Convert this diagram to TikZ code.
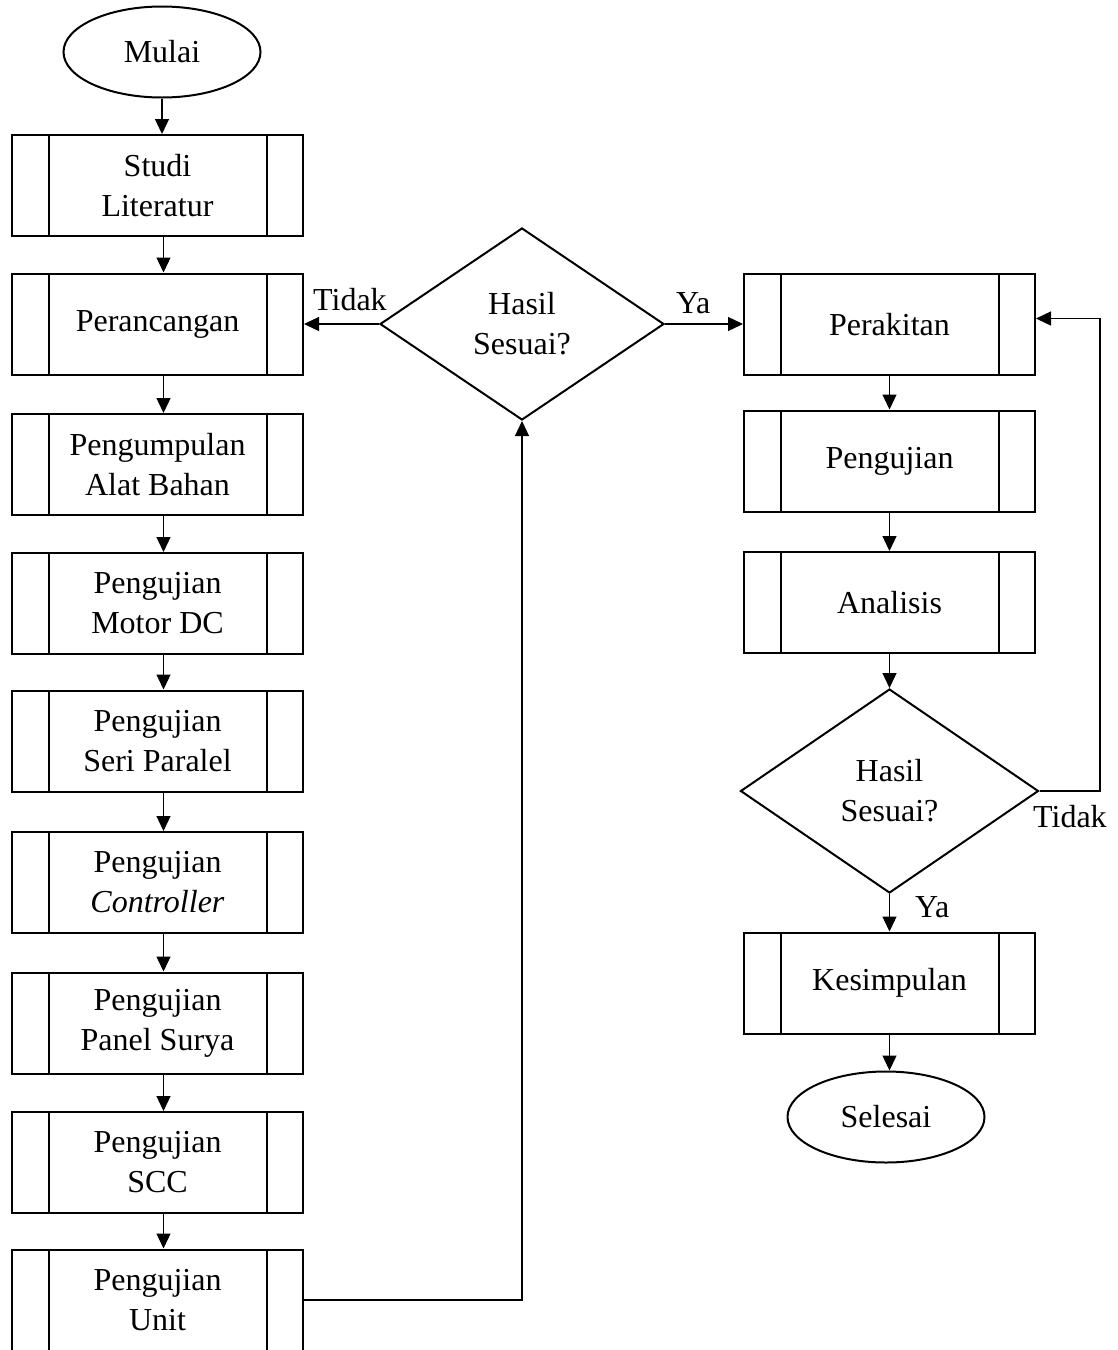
\documentclass[tikz,border=0pt]{standalone}
\usepackage{fontspec}
\setmainfont{Liberation Serif}
\usetikzlibrary{shapes.geometric,arrows.meta}

\begin{document}
\begin{tikzpicture}[x=1pt,y=-1pt,
  every node/.style={font=\fontsize{32}{40}\selectfont},
  proc/.style={draw, line width=2pt, rectangle, minimum width=291pt,
    minimum height=101pt, inner sep=0pt, align=center,
    path picture={
      \draw[line width=2pt]
        ([xshift=37pt]path picture bounding box.north west) --
        ([xshift=37pt]path picture bounding box.south west);
      \draw[line width=2pt]
        ([xshift=-36pt]path picture bounding box.north east) --
        ([xshift=-36pt]path picture bounding box.south east);
    }},
  term/.style={draw, line width=2pt, ellipse, minimum width=197pt,
    minimum height=91pt, inner sep=0pt},
  decision/.style={draw, line width=2pt, diamond, shape aspect=1.5,
    inner sep=0pt, align=center},
  lbl/.style={anchor=base west, inner sep=0pt},
  arr/.style={line width=1.3pt, -{Triangle[length=15pt,width=14pt]}},
  conn/.style={line width=1.3pt}
]
\useasboundingbox (0,0) rectangle (1118,1350);
\clip (0,0) rectangle (1118,1350);
\fill[white] (0,0) rectangle (1118,1350);

% left column
\node[term] (mulai) at (162,52) {Mulai};
\node[proc] (studi) at (157.5,185.5) {Studi\\Literatur};
\node[proc] (peran) at (157.5,324) {Perancangan};
\node[proc] (kumpul) at (157.5,464.5) {Pengumpulan\\Alat Bahan};
\node[proc] (motor) at (157.5,603.5) {Pengujian\\Motor DC};
\node[proc] (seri) at (157.5,741) {Pengujian\\Seri Paralel};
\node[proc] (ctrl) at (157.5,882.5) {Pengujian\\\textit{Controller}};
\node[proc] (panel) at (157.5,1023) {Pengujian\\Panel Surya};
\node[proc] (scc) at (157.5,1162.5) {Pengujian\\SCC};
\node[proc] (unit) at (157.5,1300) {Pengujian\\Unit};

% first decision
\node[decision, minimum width=284pt, minimum height=192pt] (cek1) at (522,324) {Hasil\\Sesuai?};

% right column
\node[proc] (rakit) at (889.5,324.5) {Perakitan};
\node[proc] (uji) at (889.5,461) {Pengujian};
\node[proc] (anal) at (889.5,602.5) {Analisis};
\node[decision, minimum width=298pt, minimum height=204pt] (cek2) at (889.5,791) {Hasil\\Sesuai?};
\node[proc] (simpul) at (889.5,983) {Kesimpulan};
\node[term] (selesai) at (886,1117) {Selesai};

% connectors, left column
\draw[arr] (mulai) -- (mulai |- studi.north);
\foreach \a/\b in {studi/peran, peran/kumpul, kumpul/motor, motor/seri,
                   seri/ctrl, ctrl/panel, panel/scc, scc/unit}
  \draw[arr] ([xshift=6pt]\a.south) -- ([xshift=6pt]\b.north);

\draw[arr] (unit.east) -| (cek1.south);
\draw[arr] (cek1.west) -- (cek1.west -| peran.east);
\draw[arr] (cek1.east) -- (cek1.east -| rakit.west);
\node[lbl] (t1) at (313,310) {Tidak};
\node[lbl] (y1) at (676,313) {Ya};

% connectors, right column
\draw[arr] (rakit.south) -- (uji.north);
\draw[arr] (uji.south) -- (anal.north);
\draw[arr] (anal.south) -- (cek2.north);
\draw[arr] (cek2.south) -- (simpul.north);
\draw[arr] (simpul.south) -- (simpul.south |- selesai.north);
\coordinate (loop) at (1100,791);
\draw[arr] (cek2.east) -- (loop) |- ([yshift=6pt]rakit.east);
\node[lbl] (t2) at (1033,827) {Tidak};
\node[lbl] (y2) at (915,917) {Ya};
\end{tikzpicture}
\end{document}
